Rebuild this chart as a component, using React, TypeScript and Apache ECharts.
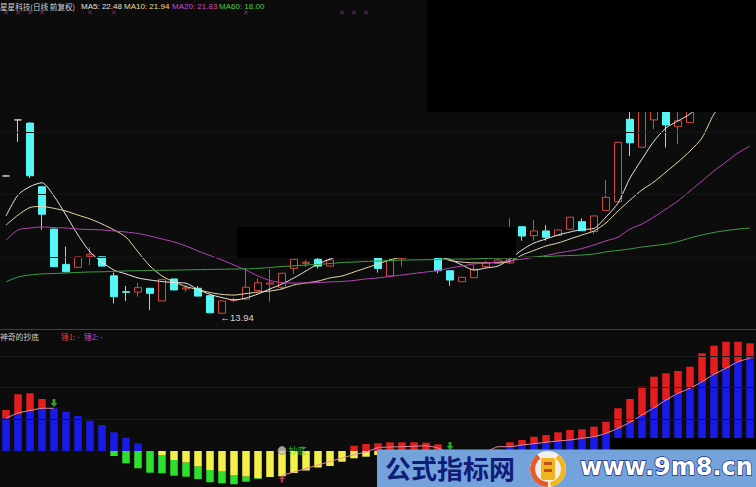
import React, { useEffect, useRef } from 'react';
import * as echarts from 'echarts';

// ---------- price panel (daily candles) ----------
const opens = [20.46, 23.11, 22.96, 19.95, 17.95, 16.28, 16.14, 16.66, 16.64, 15.74, 14.99, 14.97, 15.15, 14.55, 15.59, 15.12, 15.15, 14.80, 13.97, 14.57, 14.63, 15.04, 15.35, 15.20, 16.09, 16.33, 16.52, 16.20, 16.65, 17.20, 17.50, 16.90, 15.73, 16.55, 16.75, 17.30, 16.90, 15.98, 15.46, 15.65, 16.17, 16.33, 16.35, 18.06, 17.64, 17.86, 17.64, 17.94, 18.30, 17.83, 18.82, 19.24, 23.14, 21.82, 23.11, 23.70, 22.79, 22.98, 23.80, 24.60, 25.50, 25.20, 26.00];
const closes = [20.46, 23.11, 20.47, 18.65, 16.17, 15.93, 16.63, 16.74, 16.20, 14.75, 14.96, 15.18, 14.91, 15.57, 15.07, 15.17, 14.78, 13.99, 14.55, 14.62, 15.20, 15.41, 15.40, 15.86, 16.52, 16.38, 16.20, 16.49, 17.20, 17.50, 17.00, 16.09, 16.45, 16.75, 17.30, 16.90, 15.98, 15.54, 15.67, 16.05, 16.36, 16.49, 17.60, 17.62, 17.86, 17.56, 17.91, 18.51, 17.87, 18.57, 19.45, 22.05, 22.03, 24.20, 23.60, 22.87, 23.07, 23.70, 24.60, 25.50, 25.20, 26.00, 26.30];
const lows = [20.43, 22.07, 20.36, 17.91, 16.17, 15.93, 16.14, 16.25, 16.20, 14.44, 14.55, 14.75, 14.12, 14.55, 15.07, 14.99, 14.78, 13.98, 13.94, 14.49, 14.63, 15.04, 14.52, 15.07, 15.83, 16.17, 16.09, 16.20, 16.62, 17.05, 16.90, 15.89, 15.73, 16.17, 16.70, 16.70, 15.86, 15.26, 15.46, 15.65, 16.10, 16.30, 16.30, 17.40, 17.40, 17.40, 17.64, 17.94, 17.87, 17.72, 18.82, 19.24, 21.40, 21.82, 22.67, 21.80, 21.96, 22.98, 23.60, 24.30, 24.90, 25.00, 25.80];
const highs = [20.48, 23.11, 23.00, 19.95, 17.95, 17.12, 16.63, 17.10, 16.64, 15.89, 15.26, 15.39, 15.15, 15.57, 15.59, 15.30, 15.26, 14.80, 14.55, 14.71, 16.09, 15.62, 16.06, 15.86, 16.52, 16.49, 16.60, 16.70, 17.40, 17.75, 17.60, 17.00, 16.55, 16.90, 17.50, 17.60, 16.95, 15.98, 15.67, 16.24, 16.45, 16.55, 18.46, 18.06, 18.38, 18.14, 17.91, 18.51, 18.46, 18.57, 20.27, 22.05, 23.60, 24.80, 23.90, 23.90, 23.60, 24.00, 25.00, 25.90, 26.10, 26.40, 26.80];
const dojiWhite = [0, 1];

const ma5 = [18.57, 19.56, 19.96, 20.14, 19.51, 18.61, 17.67, 16.87, 16.39, 16.01, 15.83, 15.64, 15.54, 15.47, 15.42, 15.39, 15.09, 14.86, 14.71, 14.60, 14.69, 14.88, 15.12, 15.35, 15.64, 15.97, 16.30, 16.53, 16.75, 16.98, 17.10, 17.00, 16.90, 16.88, 16.85, 16.80, 16.70, 16.51, 16.25, 16.01, 16.11, 16.20, 16.53, 16.96, 17.29, 17.48, 17.67, 17.81, 17.93, 17.98, 18.52, 19.18, 20.36, 21.26, 22.11, 22.73, 23.06, 23.39, 23.90, 24.30, 24.80, 25.30, 25.70];
const ma10 = [18.14, 18.61, 18.97, 19.02, 18.93, 18.80, 18.61, 18.43, 18.19, 17.91, 17.57, 16.87, 16.20, 15.73, 15.45, 15.23, 15.09, 14.95, 14.86, 14.83, 14.90, 14.97, 15.02, 15.12, 15.31, 15.40, 15.49, 15.64, 15.73, 15.92, 16.11, 16.30, 16.49, 16.63, 16.77, 16.77, 16.68, 16.46, 16.39, 16.35, 16.35, 16.37, 16.42, 16.72, 16.94, 17.15, 17.29, 17.48, 17.67, 17.86, 18.24, 18.80, 19.32, 19.80, 20.18, 20.65, 21.12, 21.64, 22.26, 23.39, 24.05, 24.52, 25.00];
const ma20 = [17.43, 17.91, 18.00, 18.05, 18.02, 18.00, 17.95, 17.93, 17.91, 17.86, 17.81, 17.74, 17.62, 17.48, 17.34, 17.15, 16.91, 16.70, 16.49, 16.25, 16.01, 15.73, 15.52, 15.42, 15.40, 15.40, 15.42, 15.45, 15.47, 15.52, 15.59, 15.64, 15.71, 15.78, 15.85, 15.92, 15.99, 16.11, 16.20, 16.30, 16.35, 16.39, 16.46, 16.53, 16.61, 16.70, 16.82, 16.91, 17.03, 17.20, 17.39, 17.57, 17.95, 18.19, 18.52, 18.90, 19.28, 19.75, 20.22, 20.70, 21.12, 21.55, 21.88];
const ma60 = [15.46, 15.68, 15.78, 15.83, 15.85, 15.87, 15.90, 15.92, 15.93, 15.95, 15.97, 15.98, 15.99, 16.00, 16.01, 16.02, 16.03, 16.04, 16.05, 16.06, 16.07, 16.09, 16.13, 16.18, 16.21, 16.25, 16.28, 16.32, 16.37, 16.39, 16.42, 16.44, 16.46, 16.48, 16.49, 16.50, 16.51, 16.53, 16.53, 16.54, 16.56, 16.57, 16.58, 16.61, 16.63, 16.65, 16.68, 16.70, 16.72, 16.77, 16.87, 16.94, 17.01, 17.10, 17.17, 17.24, 17.36, 17.53, 17.67, 17.79, 17.88, 17.95, 18.00];
const priceGridLines = [16.64, 19.61, 22.51];
const signalIdx = [0, 1, 2, 3, 7, 9, 20, 28, 29, 30];
const signalRowPrice = 28.19;

// ---------- indicator panel 神奇的抄底 ----------
const blueTop = [32.7, 36.7, 40, 42.7, 42.7, 39.3, 35, 30.3, 26, 18.7, 13.3, 7.7, 0, 0, 0, 0, 0, 0, 0, 0, 0, 0, 0, 0, 0, 0, 0, 0, 0, 0, 0, 0, 0, 0, 0, 0, 0, 0, 0, 0, 0, 0, 4.3, 6, 7.3, 8.7, 10, 11, 12.7, 14.3, 17.7, 22.7, 28.7, 36, 43.3, 51, 57.7, 62.7, 69.3, 76.7, 82.7, 89.3, 92.7];
const redTop = [41, 56.7, 57.7, 52, 42.7, 39.3, 35, 30.3, 26, 18.7, 13.3, 7.7, 0, 0, 0, 0, 0, 0, 0, 0, 0, 0, 0, 0, 0, 0, 0, 0, 0, 5.3, 7, 7.7, 8.7, 8.7, 8.7, 8.3, 6.7, 1.5, 0, 0, 0, 1.5, 8.7, 11, 14.3, 16, 18.7, 21, 21.7, 24.3, 29.3, 42.7, 52, 64.3, 74.3, 77.7, 80, 84.3, 97.7, 105.3, 109.3, 109.3, 107.7];
const yellowBottom = [0, 0, 0, 0, 0, 0, 0, 0, 0, 0, 0, 0, 0, -4, -9, -11.7, -15.7, -19, -20.7, -24, -25.7, -27.3, -26, -25.3, -22, -19.5, -16.5, -15, -10.7, -7.3, -5.7, -4, -3, -2.5, -2, -2, -3, -5, -6, -5.5, -4, -2, 0, 0, 0, 0, 0, 0, 0, 0, 0, 0, 0, 0, 0, 0, 0, 0, 0, 0, 0, 0, 0];
const greenBottom = [0, 0, 0, 0, 0, 0, 0, 0, 0, -5, -12.3, -17.3, -21.7, -22.3, -24.7, -25.7, -28, -31.3, -32.3, -33.3, -30.7, -28, 0, 0, 0, 0, 0, 0, 0, 0, 0, 0, 0, 0, 0, 0, 0, 0, 0, 0, 0, 0, 0, 0, 0, 0, 0, 0, 0, 0, 0, 0, 0, 0, 0, 0, 0, 0, 0, 0, 0, 0, 0];
const signalLine = [32.7, 38, 40.5, 42.7, 42.7, null, null, null, null, null, null, null, null, null, null, null, null, null, null, null, null, null, null, -24.5, -21, -17.5, -14, -10.5, -7, -3.7, -1, 3.3, 4, 4.3, 4.7, 5.3, 3, -2, -3, -3, -1, 4.3, 4.3, 6, 7.3, 8.7, 10, 11, 12.7, 14.3, 17.7, 22.7, 28.7, 36, 43.3, 51, 57.7, 62.7, 69.3, 76.7, 82.7, 89.3, 92.7];
const sellArrows = [[4, 48], [37, 5]];
const bottomSignal = [[23, 0.6]];
const buyArrow = [[23, -28]];
const indicatorGridLines = [31.7, 63.4, 95.1];

const days = opens.map((_, i) => String(i + 1));

const CJK = '"Noto Sans CJK SC", sans-serif';
const LAT = '"Liberation Sans", Arial, sans-serif';

function buildOption() {
  const candleData = opens.map((o, i) => {
    const v = [o, closes[i], lows[i], highs[i]];
    if (dojiWhite.includes(i)) {
      return { value: v, itemStyle: { color: '#cfcfcf', color0: '#cfcfcf', borderColor: '#cfcfcf', borderColor0: '#cfcfcf' } };
    }
    return v;
  });
  let lowIdx = 0;
  lows.forEach((l, i) => { if (l < lows[lowIdx]) lowIdx = i; });

  const red = redTop.map((d, i) => (d > blueTop[i] ? +(d - blueTop[i]).toFixed(2) : null));
  const blue = blueTop.map((c) => (c > 0 ? c : null));
  const yellow = yellowBottom.map((a) => (a < 0 ? a : null));
  const green = greenBottom.map((b, i) => (b < yellowBottom[i] ? +(b - yellowBottom[i]).toFixed(2) : null));

  const faint = (vals: number[], color: string) => ({
    silent: true,
    symbol: ['none', 'none'],
    label: { show: false },
    lineStyle: { color, width: 1, type: 'solid' },
    data: vals.map((v) => ({ yAxis: v })),
  });

  const txt = (text: string, x: number, y: number, fill: string, size: number, family: string, z = 100, weight = 'normal') => ({
    type: 'text',
    x,
    y,
    z,
    silent: true,
    style: { text, fill, fontSize: size, fontWeight: weight, fontFamily: family, textVerticalAlign: 'middle', verticalAlign: 'middle' },
  });

  return {
    animation: false,
    backgroundColor: '#0c0c0c',
    grid: [
      { left: -1.765, top: 10, width: 764.19, height: 315 },
      { left: -1.765, top: 330, width: 764.19, height: 157 },
    ],
    xAxis: [
      { type: 'category', gridIndex: 0, data: days, boundaryGap: true, show: false },
      { type: 'category', gridIndex: 1, data: days, boundaryGap: true, show: false },
    ],
    yAxis: [
      { type: 'value', gridIndex: 0, min: 13.414, max: 28.307, show: false, splitLine: { show: false } },
      { type: 'value', gridIndex: 1, min: -36, max: 121, show: false, splitLine: { show: false } },
    ],
    series: [
      {
        type: 'line', xAxisIndex: 0, yAxisIndex: 0, data: [], markLine: faint(priceGridLines, '#151515'), z: 1,
      },
      {
        type: 'candlestick',
        xAxisIndex: 0,
        yAxisIndex: 0,
        barWidth: 8,
        z: 2,
        data: candleData,
        itemStyle: { color: '#0c0c0c', color0: '#55f6f6', borderColor: '#d44a40', borderColor0: '#55f6f6', borderWidth: 1 },
        markPoint: {
          silent: true,
          data: [
            {
              coord: [lowIdx, lows[lowIdx]],
              symbol: 'circle',
              symbolSize: 1,
              itemStyle: { color: 'rgba(0,0,0,0)' },
              label: {
                show: true,
                position: 'right',
                distance: 0,
                offset: [-2, 4],
                formatter: '\u2190' + lows[lowIdx].toFixed(2),
                color: '#d4d4d4',
                fontSize: 9.5,
                fontFamily: LAT,
              },
            },
          ],
        },
      },
      { type: 'line', name: 'MA5', xAxisIndex: 0, yAxisIndex: 0, data: ma5, showSymbol: false, smooth: 0.25, z: 3, lineStyle: { color: '#e6e6e6', width: 1 } },
      { type: 'line', name: 'MA10', xAxisIndex: 0, yAxisIndex: 0, data: ma10, showSymbol: false, smooth: 0.25, z: 3, lineStyle: { color: '#e4d6a8', width: 1 } },
      { type: 'line', name: 'MA20', xAxisIndex: 0, yAxisIndex: 0, data: ma20, showSymbol: false, smooth: 0.25, z: 3, lineStyle: { color: '#b444b4', width: 1 } },
      { type: 'line', name: 'MA60', xAxisIndex: 0, yAxisIndex: 0, data: ma60, showSymbol: false, smooth: 0.25, z: 3, lineStyle: { color: '#3f9f3f', width: 1 } },
      {
        type: 'scatter',
        xAxisIndex: 0,
        yAxisIndex: 0,
        data: signalIdx.map((i) => [i, signalRowPrice]),
        symbol: 'path://M0,1L1,0L5,4L9,0L10,1L6,5L10,9L9,10L5,6L1,10L0,9L4,5Z',
        symbolSize: 4,
        itemStyle: { color: '#c248c2' },
        z: 3,
      },
      // indicator bars
      { type: 'bar', xAxisIndex: 1, yAxisIndex: 1, stack: 'pos', barWidth: 7.5, barGap: '-100%', data: blue, itemStyle: { color: '#1a1ae8' }, z: 2, markLine: faint(indicatorGridLines, '#191919') },
      { type: 'bar', xAxisIndex: 1, yAxisIndex: 1, stack: 'pos', barWidth: 7.5, barGap: '-100%', data: red, itemStyle: { color: '#e41e1e' }, z: 2 },
      { type: 'bar', xAxisIndex: 1, yAxisIndex: 1, stack: 'neg', barWidth: 7.5, barGap: '-100%', data: yellow, itemStyle: { color: '#f4f04a' }, z: 2 },
      { type: 'bar', xAxisIndex: 1, yAxisIndex: 1, stack: 'neg', barWidth: 7.5, barGap: '-100%', data: green, itemStyle: { color: '#2ee02e' }, z: 2 },
      { type: 'line', xAxisIndex: 1, yAxisIndex: 1, data: signalLine, showSymbol: false, connectNulls: false, smooth: 0.2, z: 4, lineStyle: { color: '#e08aa2', width: 1 } },
      {
        type: 'scatter', xAxisIndex: 1, yAxisIndex: 1, data: sellArrows, z: 5,
        symbol: 'path://M3,0L7,0L7,5L10,5L5,10L0,5L3,5Z', symbolSize: [7, 8], itemStyle: { color: '#30cc30' },
      },
      {
        type: 'scatter', xAxisIndex: 1, yAxisIndex: 1, data: buyArrow, z: 5,
        symbol: 'path://M5,0L10,5L7,5L7,10L3,10L3,5L0,5Z', symbolSize: [6, 7], itemStyle: { color: '#e2446c' },
      },
      {
        type: 'scatter', xAxisIndex: 1, yAxisIndex: 1, data: bottomSignal, z: 5,
        symbol: 'circle', symbolSize: 8, itemStyle: { color: '#d2cab6', borderColor: '#8a8070', borderWidth: 1 },
        label: { show: true, position: 'right', distance: 2, formatter: '抄底', color: '#44d444', fontSize: 9, fontFamily: CJK },
      },
    ],
    graphic: [
      // panel separator
      { type: 'line', z: 100, silent: true, shape: { x1: 0, y1: 329.5, x2: 756, y2: 329.5 }, style: { stroke: '#3e3e3e', lineWidth: 1 } },
      // header
      txt('星星科技(日线 前复权)', 0, 6, '#d2d2d2', 7.6, CJK),
      txt('MA5: 22.48', 81, 6, '#e2e2e2', 8, LAT),
      txt('MA10: 21.94', 124, 6, '#e2dca0', 8, LAT),
      txt('MA20: 21.83', 172, 6, '#c848c8', 8, LAT),
      txt('MA60: 18.00', 219, 6, '#4cc84c', 8, LAT),
      // indicator header
      txt('神奇的抄底', 0, 336, '#cfcfcf', 7.8, CJK),
      txt('锤1: -', 61, 336, '#e23a3a', 7.8, CJK),
      txt('锤2: -', 84, 336, '#c848c8', 7.8, CJK),
      // censor boxes
      { type: 'rect', z: 110, silent: true, shape: { x: 427, y: 0, width: 329, height: 112 }, style: { fill: '#000000' } },
      { type: 'rect', z: 110, silent: true, shape: { x: 237, y: 227, width: 279, height: 31 }, style: { fill: '#000000' } },
      { type: 'rect', z: 110, silent: true, shape: { x: 610, y: 438, width: 146, height: 12 }, style: { fill: '#000000' } },
      // watermark
      { type: 'rect', z: 120, silent: true, shape: { x: 377, y: 449.5, width: 379, height: 38 }, style: { fill: '#74a3dc' } },
      txt('公式指标网', 385, 467, '#111b78', 26, CJK, 125, 'bold'),
      { type: 'circle', z: 121, silent: true, shape: { cx: 548, cy: 469, r: 18 }, style: { fill: '#f1efe8' } },
      { type: 'sector', z: 122, silent: true, shape: { cx: 548, cy: 469, r: 18, r0: 13, startAngle: Math.PI * 0.5, endAngle: Math.PI * 1.3 }, style: { fill: '#e45a2c' } },
      { type: 'sector', z: 122, silent: true, shape: { cx: 548, cy: 469, r: 18, r0: 13, startAngle: Math.PI * 1.7, endAngle: Math.PI * 2.45 }, style: { fill: '#f2b81c' } },
      { type: 'rect', z: 122, silent: true, shape: { x: 541, y: 458, width: 14, height: 22, r: 2 }, style: { fill: '#f0b41e' } },
      { type: 'rect', z: 123, silent: true, shape: { x: 544, y: 462, width: 8, height: 3 }, style: { fill: '#c0501e' } },
      { type: 'rect', z: 123, silent: true, shape: { x: 544, y: 469, width: 8, height: 3 }, style: { fill: '#c0501e' } },
      {
        type: 'text', x: 580, y: 467, z: 124, silent: true,
        style: {
          text: 'www.9m8.cn', fill: '#ffffff', fontSize: 24, fontWeight: 'bold', fontFamily: '"DejaVu Sans", sans-serif',
          stroke: '#1d2d86', lineWidth: 1.5, textShadowColor: '#1d2d86', textShadowOffsetX: 2, textShadowOffsetY: 2, textShadowBlur: 0,
          textVerticalAlign: 'middle', verticalAlign: 'middle',
        },
      },
    ],
  };
}

export default function App() {
  const ref = useRef<HTMLDivElement>(null);
  useEffect(() => {
    document.body.style.margin = '0';
    const chart = echarts.init(ref.current as HTMLDivElement, null, { renderer: 'svg' });
    chart.setOption(buildOption() as any);
    return () => chart.dispose();
  }, []);
  return <div ref={ref} style={{ position: 'fixed', left: 0, top: 0, width: 756, height: 487, background: '#0c0c0c' }} />;
}
